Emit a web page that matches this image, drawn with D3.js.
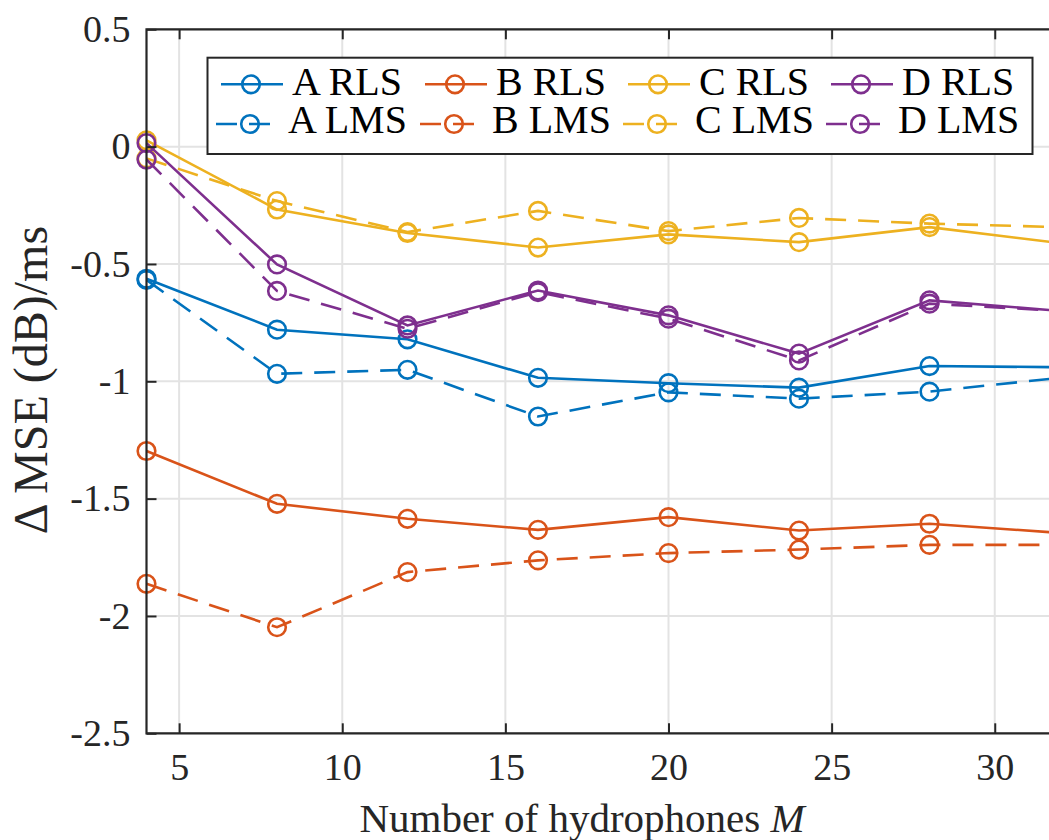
<!DOCTYPE html>
<html>
<head>
<meta charset="utf-8">
<script src="https://cdn.jsdelivr.net/npm/d3@7"></script>
<style>
  html, body { margin: 0; padding: 0; background: #fff; }
  svg { display: block; }
  svg text { font-family: 'Liberation Serif', 'DejaVu Serif', serif; }
</style>
</head>
<body>
<div id="chart"></div>
<script>
'use strict';

// Values
const hydrophones = [4, 8, 12, 16, 20, 24, 28, 32];
const aRls = [-0.563, -0.780, -0.821, -0.985, -1.008, -1.027, -0.935, -0.940];
const aLms = [-0.568, -0.968, -0.951, -1.150, -1.047, -1.074, -1.044, -0.985];
const bRls = [-1.297, -1.522, -1.586, -1.633, -1.579, -1.636, -1.607, -1.646];
const bLms = [-1.863, -2.048, -1.813, -1.763, -1.732, -1.717, -1.697, -1.697];
const cRls = [0.027, -0.268, -0.368, -0.430, -0.374, -0.407, -0.343, -0.411];
const cLms = [-0.050, -0.232, -0.364, -0.274, -0.360, -0.304, -0.328, -0.343];
const dRls = [0.015, -0.502, -0.762, -0.613, -0.719, -0.882, -0.655, -0.700];
const dLms = [-0.055, -0.615, -0.776, -0.620, -0.733, -0.911, -0.669, -0.700];

const seriesNames = ['A RLS', 'A LMS', 'B RLS', 'B LMS', 'C RLS', 'C LMS', 'D RLS', 'D LMS'];
const seriesValues = [aRls, aLms, bRls, bLms, cRls, cLms, dRls, dLms];
const seriesColors = ['#0072BD', '#0072BD', '#D95319', '#D95319', '#EDB120', '#EDB120', '#7E2F8E', '#7E2F8E'];
const seriesDashed = [false, true, false, true, false, true, false, true];

const xTicks = [5, 10, 15, 20, 25, 30];
const yTicks = [-2.5, -2, -1.5, -1, -0.5, 0, 0.5];

// Layout
const width = 1049;
const height = 840;
const plot = { left: 146.5, right: 1060, top: 29.3, bottom: 733.3 };
const axisColor = '#262626';
const gridColor = '#e3e3e3';
const dash = '21,12';
const serif = "'Liberation Serif', 'DejaVu Serif', serif";

const svg = d3.select('#chart').append('svg')
  .attr('width', width)
  .attr('height', height);

const x = d3.scaleLinear().domain([4, 32]).range([plot.left, plot.right]);
const y = d3.scaleLinear().domain([-2.5, 0.5]).range([plot.bottom, plot.top]);

// Grid
svg.append('g')
  .selectAll('line.vgrid')
  .data(xTicks)
  .enter().append('line')
  .attr('x1', d => x(d)).attr('x2', d => x(d))
  .attr('y1', plot.top).attr('y2', plot.bottom)
  .style('stroke', gridColor)
  .style('stroke-width', 2);
svg.append('g')
  .selectAll('line.hgrid')
  .data(yTicks)
  .enter().append('line')
  .attr('x1', plot.left).attr('x2', plot.right)
  .attr('y1', d => y(d)).attr('y2', d => y(d))
  .style('stroke', gridColor)
  .style('stroke-width', 2);

// Data lines, drawn in legend order so purple ends on top
const line = d3.line()
  .x((d, i) => x(hydrophones[i]))
  .y(d => y(d));

seriesValues.forEach((values, s) => {
  const g = svg.append('g');
  g.append('path')
    .datum(values)
    .attr('d', line)
    .style('fill', 'none')
    .style('stroke', seriesColors[s])
    .style('stroke-width', 2.6)
    .style('stroke-dasharray', seriesDashed[s] ? dash : null);
  g.selectAll('circle')
    .data(values)
    .enter().append('circle')
    .attr('cx', (d, i) => x(hydrophones[i]))
    .attr('cy', d => y(d))
    .attr('r', 8.8)
    .style('fill', 'none')
    .style('stroke', seriesColors[s])
    .style('stroke-width', 2.6);
});

// Axes: ticks pointing inward
const fmt = d => String(d);
const yAxis = svg.append('g')
  .attr('transform', `translate(${plot.left}, 0)`)
  .call(d3.axisLeft(y).tickValues(yTicks).tickSize(-10).tickPadding(16).tickFormat(fmt));
const xAxis = svg.append('g')
  .attr('transform', `translate(0, ${plot.bottom})`)
  .call(d3.axisBottom(x).tickValues(xTicks).tickSize(-10).tickPadding(20).tickFormat(fmt));
const xTop = svg.append('g')
  .attr('transform', `translate(0, ${plot.top})`)
  .call(d3.axisTop(x).tickValues(xTicks).tickSize(-10).tickFormat(''));

[yAxis, xAxis, xTop].forEach(a => {
  a.attr('font-family', serif);
  a.select('.domain').remove();
  a.selectAll('.tick line').style('stroke', axisColor).style('stroke-width', 2);
  a.selectAll('.tick text')
    .style('fill', axisColor)
    .style('font-size', '38px');
});

// Axis box (the right side falls outside the picture)
svg.append('path')
  .attr('d', `M${plot.right},${plot.top}H${plot.left}V${plot.bottom}H${plot.right}`)
  .style('fill', 'none')
  .style('stroke', axisColor)
  .style('stroke-width', 2.2);

// Axis labels
const xLabel = svg.append('text')
  .attr('x', 582)
  .attr('y', 832)
  .attr('text-anchor', 'middle')
  .style('font-size', '41px')
  .style('fill', axisColor);
xLabel.append('tspan').text('Number of hydrophones ');
xLabel.append('tspan').style('font-style', 'italic').text('M');

svg.append('text')
  .attr('transform', 'translate(47, 380) rotate(-90)')
  .attr('text-anchor', 'middle')
  .style('font-size', '48px')
  .style('fill', axisColor)
  .text('\u0394 MSE (dB)/ms');

// Legend, 4 columns x 2 rows
const legendCols = [221, 425, 628, 831];
const legend = svg.append('g');
legend.append('rect')
  .attr('x', 207.5).attr('y', 57.7)
  .attr('width', 825).attr('height', 96.3)
  .style('fill', '#fff')
  .style('stroke', axisColor)
  .style('stroke-width', 2);

seriesNames.forEach((name, s) => {
  const col = Math.floor(s / 2);
  const row = s % 2;
  const x0 = legendCols[col];
  const ly = row === 0 ? 84.3 : 124;
  const item = legend.append('g');
  item.append('line')
    .attr('x1', row === 0 ? x0 : x0 - 5)
    .attr('x2', row === 0 ? x0 + 62 : x0 + 49)
    .attr('y1', ly).attr('y2', ly)
    .style('stroke', seriesColors[s])
    .style('stroke-width', 2.6)
    .style('stroke-dasharray', seriesDashed[s] ? dash : null);
  item.append('circle')
    .attr('cx', row === 0 ? x0 + 30 : x0 + 29)
    .attr('cy', ly)
    .attr('r', 8.8)
    .style('fill', 'none')
    .style('stroke', seriesColors[s])
    .style('stroke-width', 2.6);
  item.append('text')
    .attr('x', row === 0 ? x0 + 71 : x0 + 67)
    .attr('y', row === 0 ? 95 : 133.3)
    .style('font-size', '40px')
    .style('fill', '#000')
    .text(name);
});
</script>
</body>
</html>
